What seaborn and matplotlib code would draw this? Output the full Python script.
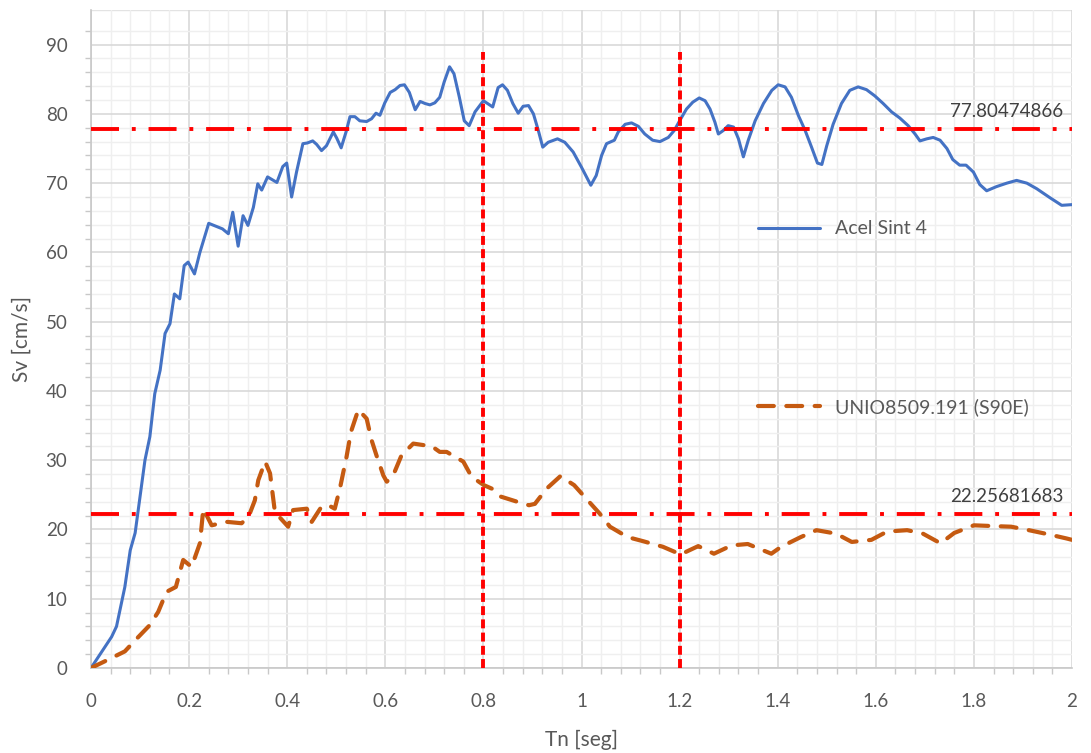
import numpy as np
import pandas as pd
import matplotlib
matplotlib.use("Agg")
import matplotlib.pyplot as plt
from matplotlib.ticker import FixedLocator, MultipleLocator
from matplotlib.lines import Line2D
import seaborn as sns

# Pseudo-velocity spectrum, synthetic accelerogram 4
tn_sint = [0, 0.042, 0.052, 0.069, 0.08, 0.09, 0.1, 0.11, 0.12, 0.13, 0.141, 0.151, 0.161,
           0.17, 0.181, 0.19, 0.198, 0.211, 0.222, 0.24, 0.268, 0.28, 0.289, 0.3, 0.31,
           0.32, 0.331, 0.34, 0.348, 0.36, 0.379, 0.391, 0.399, 0.409, 0.419, 0.432,
           0.441, 0.452, 0.46, 0.47, 0.48, 0.494, 0.501, 0.51, 0.52, 0.528, 0.538, 0.548,
           0.562, 0.572, 0.581, 0.589, 0.599, 0.61, 0.62, 0.63, 0.639, 0.649, 0.661,
           0.671, 0.681, 0.691, 0.701, 0.711, 0.72, 0.731, 0.74, 0.751, 0.761, 0.771,
           0.783, 0.8, 0.819, 0.83, 0.839, 0.849, 0.86, 0.871, 0.881, 0.892, 0.902,
           0.912, 0.921, 0.932, 0.951, 0.966, 0.983, 1.0, 1.019, 1.03, 1.041, 1.051,
           1.067, 1.075, 1.089, 1.102, 1.116, 1.129, 1.145, 1.16, 1.177, 1.189, 1.2,
           1.214, 1.227, 1.24, 1.252, 1.262, 1.272, 1.279, 1.289, 1.299, 1.31, 1.32,
           1.33, 1.34, 1.354, 1.371, 1.388, 1.401, 1.415, 1.428, 1.442, 1.456, 1.469,
           1.481, 1.49, 1.5, 1.513, 1.53, 1.547, 1.564, 1.581, 1.598, 1.615, 1.632,
           1.649, 1.666, 1.68, 1.69, 1.704, 1.717, 1.731, 1.745, 1.757, 1.771, 1.784,
           1.799, 1.812, 1.826, 1.846, 1.867, 1.887, 1.908, 1.928, 1.955, 1.979, 2.0]
sv_sint = [0, 4.5, 6, 11.7, 17, 19.5, 24.7, 30, 33.4, 39.6, 43, 48.3, 49.7,
           54, 53.3, 58.1, 58.6, 56.9, 60, 64.2, 63.4, 62.7, 65.8, 60.9, 65.3,
           63.9, 66.5, 69.9, 69, 70.9, 70.1, 72.4, 72.9, 68, 71.6, 75.7,
           75.8, 76.1, 75.6, 74.7, 75.4, 77.4, 76.5, 75.1, 77.4, 79.6, 79.6, 79,
           78.9, 79.3, 80.1, 79.8, 81.6, 83.1, 83.5, 84.1, 84.2, 83.1, 80.6,
           81.8, 81.5, 81.3, 81.6, 82.4, 84.6, 86.8, 85.8, 82.4, 79, 78.3,
           80.3, 81.9, 81, 83.8, 84.2, 83.4, 81.5, 80.1, 81.1, 81.2, 80,
           77.6, 75.2, 75.9, 76.4, 75.9, 74.5, 72.3, 69.7, 71.1, 74, 75.7,
           76.2, 77.4, 78.5, 78.7, 78.2, 77.1, 76.2, 76, 76.6, 77.6, 79,
           80.7, 81.7, 82.3, 81.9, 80.7, 78.8, 77.1, 77.6, 78.3, 78.1, 76.4,
           73.8, 76.2, 79, 81.5, 83.4, 84.2, 83.9, 82.4, 79.8, 77.6, 75.2,
           72.9, 72.7, 75.4, 78.5, 81.5, 83.4, 83.9, 83.5, 82.6, 81.5, 80.3,
           79.4, 78.3, 77.1, 76.1, 76.4, 76.6, 76.2, 75, 73.4, 72.6, 72.6,
           71.6, 69.8, 68.9, 69.5, 70, 70.4, 70, 69.2, 67.9, 66.8, 66.9]

# Pseudo-velocity spectrum, record UNIO8509.191 (S90E)
tn_unio = [0, 0.032, 0.069, 0.09, 0.12, 0.137, 0.154, 0.173, 0.188, 0.205, 0.222, 0.229,
           0.246, 0.277, 0.307, 0.321, 0.334, 0.341, 0.355, 0.365, 0.375, 0.402, 0.412,
           0.44, 0.45, 0.47, 0.484, 0.497, 0.508, 0.521, 0.53, 0.545, 0.562, 0.572,
           0.582, 0.596, 0.603, 0.616, 0.633, 0.657, 0.695, 0.711, 0.725, 0.759, 0.776,
           0.801, 0.817, 0.833, 0.869, 0.893, 0.905, 0.929, 0.957, 0.985, 1.009, 1.037,
           1.058, 1.094, 1.126, 1.166, 1.202, 1.238, 1.27, 1.306, 1.339, 1.387, 1.407,
           1.447, 1.479, 1.519, 1.551, 1.591, 1.623, 1.664, 1.696, 1.732, 1.76, 1.8,
           1.836, 1.876, 1.912, 1.952, 1.989, 2.0]
sv_unio = [0, 1.1, 2.4, 4, 6.2, 8.1, 11, 11.7, 15.6, 14.6, 18, 23,
           20.6, 21.1, 20.9, 21.8, 24.2, 27.1, 29.8, 28.1, 22.5, 20.4, 22.8,
           23, 21.1, 23.3, 23.5, 23, 26.1, 30.5, 34.1, 37.3, 36, 32.9,
           30.7, 27.8, 26.9, 27.8, 30.7, 32.4, 32, 31.2, 31.2, 29.8, 27.6,
           26.4, 25.9, 24.8, 24.0, 23.5, 23.7, 25.9, 27.7, 26.4, 24.5, 22.3,
           20.4, 18.9, 18.3, 17.5, 16.4, 17.6, 16.5, 17.7, 17.9, 16.5, 17.5,
           18.9, 19.9, 19.4, 18.2, 18.5, 19.7, 19.9, 19.4, 18.0, 19.5, 20.6,
           20.5, 20.4, 19.9, 19.3, 18.7, 18.5]

label_sint = "Acel Sint 4"
label_unio = "UNIO8509.191 (S90E)"

# Mean spectral levels and period limits
mean_sint = 77.80474866
mean_unio = 22.25681683
period_limits = [0.8, 1.2]
limit_height = [0, 89]

x_ticks = [0, 0.2, 0.4, 0.6, 0.8, 1.0, 1.2, 1.4, 1.6, 1.8, 2.0]
x_tick_labels = ["0", "0.2", "0.4", "0.6", "0.8", "1", "1.2", "1.4", "1.6", "1.8", "2"]
y_ticks = [0, 10, 20, 30, 40, 50, 60, 70, 80, 90]

sns.set_theme(style="white")
plt.rcParams["font.family"] = ["Lato", "DejaVu Sans"]

BLUE = "#4472C4"
ORANGE = "#C55A11"
RED = "#FF0000"
TEXT = "#595959"

SINT_LW = 2.2
UNIO_LW = 3.0
UNIO_DASH = [3.8, 3.0]

fig = plt.figure(figsize=(10.91, 7.53), dpi=100)
ax = fig.add_axes([91 / 1091, 1 - 668 / 753, (1072 - 91) / 1091, (668 - 10) / 753])

df_sint = pd.DataFrame({"Tn": tn_sint, "Sv": sv_sint})
df_unio = pd.DataFrame({"Tn": tn_unio, "Sv": sv_unio})

sns.lineplot(data=df_sint, x="Tn", y="Sv", ax=ax, color=BLUE, linewidth=SINT_LW,
             estimator=None, sort=False, zorder=5)
sns.lineplot(data=df_unio, x="Tn", y="Sv", ax=ax, color=ORANGE, linewidth=UNIO_LW,
             estimator=None, sort=False, zorder=5, dashes=False)
ax.lines[-1].set_dashes(UNIO_DASH)
ax.lines[-1].set_dash_capstyle("round")

# Mean levels (dash-dot) with value labels
for level in (mean_sint, mean_unio):
    ax.plot([0, 2], [level, level], color=RED, linewidth=2.8,
            dashes=[7.2, 3.3, 1.0, 3.3], zorder=6)
    ax.text(1.982, level + 1.3, f"{level:.8f}", ha="right", va="bottom",
            fontsize=13.5, color="#404040", zorder=7)

# Period limits (short dashes)
for t in period_limits:
    ax.plot([t, t], limit_height, color=RED, linewidth=2.8, dashes=[2.3, 1.1], zorder=6)

ax.set_xlim(0, 2)
ax.set_ylim(0, 95)
ax.xaxis.set_major_locator(FixedLocator(x_ticks))
ax.set_xticklabels(x_tick_labels)
ax.yaxis.set_major_locator(FixedLocator(y_ticks))
ax.xaxis.set_minor_locator(MultipleLocator(0.04))
ax.yaxis.set_minor_locator(FixedLocator(np.arange(2, 93, 2)))

ax.grid(which="major", color="#D9D9D9", linewidth=1.2, zorder=0)
ax.grid(which="minor", color="#EFEFEF", linewidth=1.0, zorder=0)
ax.set_axisbelow(True)

for side in ("top", "right"):
    ax.spines[side].set_visible(False)
ax.axhline(95, color="#E3E3E3", linewidth=1.0, zorder=0)
for side in ("left", "bottom"):
    ax.spines[side].set_color("#C8C8C8")
    ax.spines[side].set_linewidth(1.2)

ax.tick_params(axis="both", which="major", labelsize=13.5, labelcolor=TEXT,
               color="#C8C8C8", length=5, width=1.0, direction="out")
ax.tick_params(axis="both", which="minor", color="#C8C8C8", length=4, width=1.0,
               direction="out", bottom=True, left=True)
ax.tick_params(axis="y", which="major", pad=12)
ax.tick_params(axis="x", which="major", pad=13)

ax.set_xlabel("Tn [seg]", fontsize=15, color=TEXT, labelpad=14)
ax.set_ylabel("Sv [cm/s]", fontsize=15, color=TEXT, labelpad=10)

# Legend entries, placed separately inside the plot area
h_sint = Line2D([], [], color=BLUE, linewidth=SINT_LW)
h_unio = Line2D([], [], color=ORANGE, linewidth=UNIO_LW, dashes=UNIO_DASH,
                dash_capstyle="round")
leg1 = ax.legend([h_sint], [label_sint], loc="center left",
                 bbox_to_anchor=((758 - 91) / 981, (668 - 229) / 658),
                 frameon=False, fontsize=14, handlelength=3.2, handletextpad=0.75,
                 borderpad=0, borderaxespad=0, labelcolor=TEXT)
ax.add_artist(leg1)
ax.legend([h_unio], [label_unio], loc="center left",
          bbox_to_anchor=((758 - 91) / 981, (668 - 407) / 658),
          frameon=False, fontsize=14, handlelength=3.2, handletextpad=0.75,
          borderpad=0, borderaxespad=0, labelcolor=TEXT)

fig.savefig("out.png", dpi=100)
